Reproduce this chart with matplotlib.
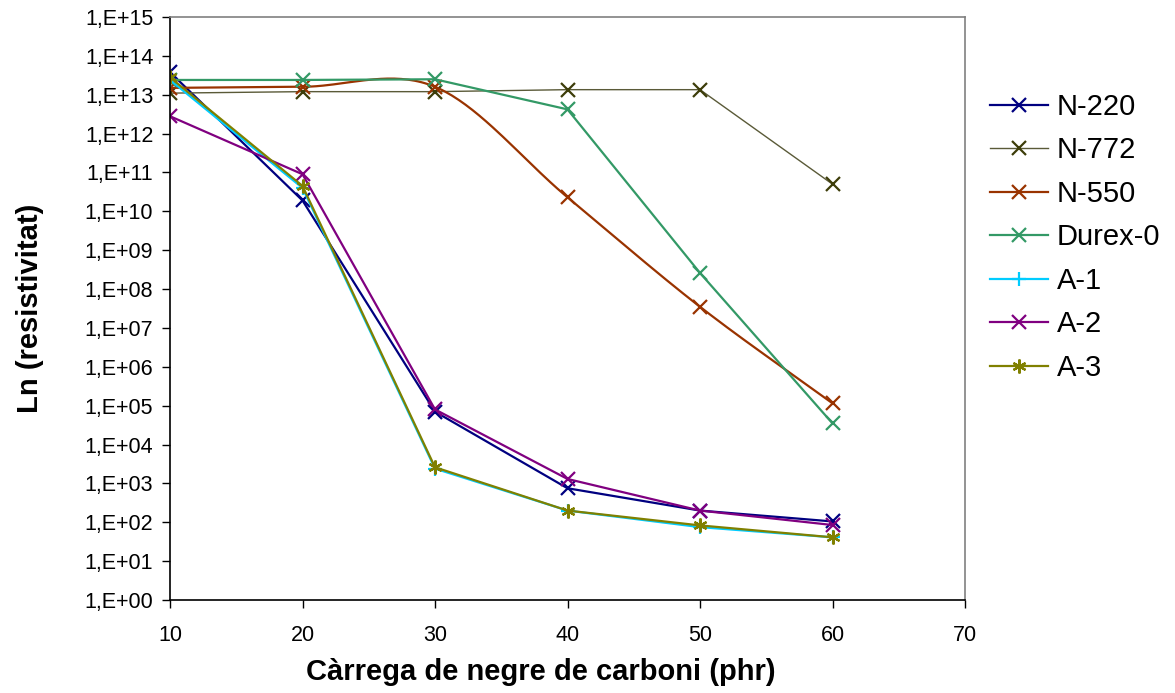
import numpy as np
import matplotlib
matplotlib.use("Agg")
import matplotlib.pyplot as plt
from matplotlib.ticker import FixedLocator, FuncFormatter

plt.rcParams['font.family'] = ['Liberation Sans', 'DejaVu Sans']

carrega = [10, 20, 30, 40, 50, 60]
series_names = ["N-220", "N-772", "N-550", "Durex-0", "A-1", "A-2", "A-3"]
n220 = [3.8e13, 1.9e10, 7.0e4, 7.5e2, 2.0e2, 1.05e2]
n772 = [1.1e13, 1.2e13, 1.2e13, 1.35e13, 1.35e13, 5.0e10]
n550 = [1.5e13, 1.6e13, 1.6e13, 2.3e10, 3.5e7, 1.15e5]
durex0 = [2.4e13, 2.4e13, 2.5e13, 4.2e12, 2.6e8, 3.5e4]
a1 = [2.4e13, 4.0e10, 2.4e3, 2.0e2, 7.5e1, 4.1e1]
a2 = [2.8e12, 9.0e10, 8.0e4, 1.3e3, 2.0e2, 8.5e1]
a3 = [2.8e13, 4.5e10, 2.6e3, 2.0e2, 8.3e1, 4.1e1]
x_ticks = [10, 20, 30, 40, 50, 60, 70]
y_exponents = list(range(0, 16))

values = [n220, n772, n550, durex0, a1, a2, a3]
colors = ["#000080", "#3d3d0a", "#993300", "#339966", "#00ccff", "#800080", "#808000"]
line_colors = ["#000080", "#5a5a38", "#993300", "#339966", "#00ccff", "#800080", "#808000"]
markers = ["x", "x", "x", "x", "+", "x", (6, 2, 0)]
lws = [1.6, 1.0, 1.6, 1.6, 1.6, 1.6, 1.6]
smooth = [False, False, True, False, False, False, False]


def catmull_rom(xs, ys, n=40):
    xs = np.asarray(xs, float)
    ys = np.asarray(ys, float)
    outx, outy = [], []
    for i in range(len(xs) - 1):
        p0 = ys[i]
        p1 = ys[i + 1]
        m0 = (ys[i + 1] - ys[i - 1]) / 2 if i > 0 else (ys[i + 1] - ys[i])
        m1 = (ys[i + 2] - ys[i]) / 2 if i + 2 < len(ys) else (ys[i + 1] - ys[i])
        t = np.linspace(0, 1, n)
        h00 = 2 * t**3 - 3 * t**2 + 1
        h10 = t**3 - 2 * t**2 + t
        h01 = -2 * t**3 + 3 * t**2
        h11 = t**3 - t**2
        outx.append(xs[i] + t * (xs[i + 1] - xs[i]))
        outy.append(h00 * p0 + h10 * m0 + h01 * p1 + h11 * m1)
    return np.concatenate(outx), np.concatenate(outy)


fig = plt.figure(figsize=(11.75, 6.93), dpi=100)
ax = fig.add_axes([170 / 1175, 93 / 693, 795 / 1175, 583 / 693])

handles = []
for name, v, c, lc, m, lw, sm in zip(series_names, values, colors, line_colors, markers, lws, smooth):
    if sm:
        sx, sy = catmull_rom(carrega, np.log10(v))
        ax.plot(sx, 10 ** sy, color=lc, lw=lw, solid_capstyle='round')
        ax.plot(carrega, v, linestyle='none', marker=m, color=c, markersize=10, mew=1.6)
    else:
        ax.plot(carrega, v, color=lc, lw=lw, marker=m, markersize=10, mew=1.6,
                markeredgecolor=c, markerfacecolor=c)
    h, = plt.plot([], [], color=lc, lw=lw, marker=m, markersize=10, mew=1.6,
                  markeredgecolor=c, markerfacecolor=c)
    handles.append(h)

ax.set_yscale('log')
ax.set_ylim(1, 1e15)
ax.set_xlim(10, 70)
ax.yaxis.set_major_locator(FixedLocator([10.0 ** e for e in y_exponents]))
ax.yaxis.set_minor_locator(FixedLocator([]))
ax.yaxis.set_major_formatter(FuncFormatter(lambda val, pos: "1,E+%02d" % int(round(np.log10(val)))))
ax.set_xticks(x_ticks)

ax.tick_params(axis='both', direction='out', length=6, width=1, labelsize=15.5, colors='black')
ax.tick_params(axis='x', pad=12)
ax.tick_params(axis='y', pad=6)

for s in ['left', 'bottom']:
    ax.spines[s].set_color('black')
    ax.spines[s].set_linewidth(1.2)
for s in ['top', 'right']:
    ax.spines[s].set_color('#808080')
    ax.spines[s].set_linewidth(1.2)

ax.set_xlabel("Càrrega de negre de carboni (phr)", fontsize=21, fontweight='bold')
ax.xaxis.set_label_coords(0.467, -0.100, transform=ax.transAxes)
ax.xaxis.label.set_verticalalignment('top')
ax.set_ylabel("Ln (resistivitat)", fontsize=21, fontweight='bold', labelpad=29)

fig.legend(handles, series_names, loc='upper left', bbox_to_anchor=(990 / 1175, 1 - 93 / 693),
           frameon=False, fontsize=21, handlelength=1.99, handletextpad=0.31,
           labelspacing=0.53, borderaxespad=0, borderpad=0)

fig.savefig("out.png", dpi=100)
